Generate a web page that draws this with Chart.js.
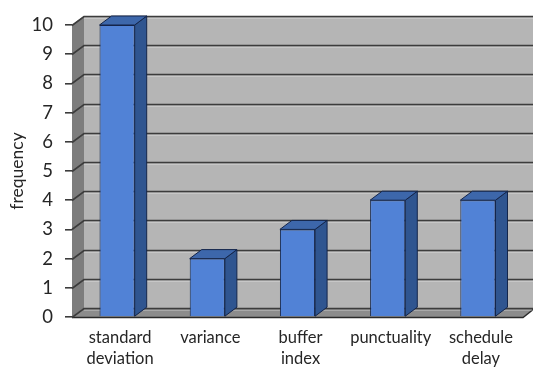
<!DOCTYPE html>
<html>
<head>
<meta charset="utf-8">
<script src="https://cdn.jsdelivr.net/npm/chart.js@4.4.1/dist/chart.umd.min.js"></script>
<style>
  html, body { margin: 0; padding: 0; background: #ffffff; }
  #wrap { width: 533px; height: 368px; }
</style>
</head>
<body>
<div id="wrap"><canvas id="chart" width="533" height="368"></canvas></div>
<script>
// Frequency of each reliability indicator
const categories = [['standard', 'deviation'], 'variance', ['buffer', 'index'], 'punctuality', ['schedule', 'delay']];
const frequency = [10, 2, 3, 4, 4];
const yTicks = [0, 1, 2, 3, 4, 5, 6, 7, 8, 9, 10];

// depth of the pseudo-3D box (pixels)
const DX = 12, DY = -9;

const box3d = {
  id: 'box3d',
  beforeDatasetsDraw(chart) {
    const { ctx, chartArea: a, scales: { y } } = chart;
    ctx.save();
    // back wall
    ctx.fillStyle = '#b5b5b5';
    ctx.fillRect(a.left + DX, a.top + DY, a.right - a.left + 20, a.bottom - a.top);
    // left side wall
    ctx.fillStyle = '#7d7d7d';
    ctx.beginPath();
    ctx.moveTo(a.left, a.top);
    ctx.lineTo(a.left + DX, a.top + DY);
    ctx.lineTo(a.left + DX, a.bottom + DY);
    ctx.lineTo(a.left, a.bottom);
    ctx.closePath();
    ctx.fill();
    // floor
    ctx.fillStyle = '#8c8c8c';
    ctx.beginPath();
    ctx.moveTo(a.left, a.bottom);
    ctx.lineTo(a.left + DX, a.bottom + DY);
    ctx.lineTo(a.right + DX, a.bottom + DY);
    ctx.lineTo(a.right, a.bottom);
    ctx.closePath();
    ctx.fill();
    ctx.strokeStyle = '#2a2a2a';
    ctx.lineWidth = 1.5;
    ctx.beginPath();
    ctx.moveTo(a.left, a.bottom + 0.5);
    ctx.lineTo(a.right, a.bottom + 0.5);
    ctx.lineTo(a.right + DX, a.bottom + DY);
    ctx.stroke();
    // gridlines: diagonal on the side wall, horizontal on the back wall
    yTicks.forEach(v => {
      const py = Math.round(y.getPixelForValue(v)) + 0.5;
      ctx.strokeStyle = 'rgba(255,255,255,0.25)';
      ctx.lineWidth = 1;
      ctx.beginPath();
      ctx.moveTo(a.left + DX, py + DY + 2);
      ctx.lineTo(a.right + DX + 20, py + DY + 2);
      ctx.stroke();
      ctx.strokeStyle = '#3c3c3c';
      ctx.lineWidth = 1.6;
      ctx.beginPath();
      ctx.moveTo(a.left, py);
      ctx.lineTo(a.left + DX, py + DY);
      ctx.lineTo(a.right + DX + 20, py + DY);
      ctx.stroke();
    });
    ctx.restore();
  },
  afterDatasetsDraw(chart) {
    const { ctx } = chart;
    const meta = chart.getDatasetMeta(0);
    ctx.save();
    ctx.lineJoin = 'round';
    ctx.strokeStyle = '#14254a';
    ctx.lineWidth = 1;
    meta.data.forEach(bar => {
      const { x, y, base, width } = bar.getProps(['x', 'y', 'base', 'width'], true);
      const l = x - width / 2, r = x + width / 2;
      // side face
      ctx.fillStyle = '#2f5590';
      ctx.beginPath();
      ctx.moveTo(r, y);
      ctx.lineTo(r + DX, y + DY);
      ctx.lineTo(r + DX, base + DY);
      ctx.lineTo(r, base);
      ctx.closePath();
      ctx.fill();
      ctx.stroke();
      // top face
      ctx.fillStyle = '#3d67ab';
      ctx.beginPath();
      ctx.moveTo(l, y);
      ctx.lineTo(l + DX, y + DY);
      ctx.lineTo(r + DX, y + DY);
      ctx.lineTo(r, y);
      ctx.closePath();
      ctx.fill();
      ctx.stroke();
    });
    ctx.restore();
  }
};

new Chart(document.getElementById('chart'), {
  type: 'bar',
  data: {
    labels: categories,
    datasets: [{
      data: frequency,
      backgroundColor: '#5182d6',
      borderColor: '#14254a',
      borderWidth: 1,
      categoryPercentage: 1,
      barPercentage: 0.39
    }]
  },
  options: {
    responsive: false,
    animation: false,
    layout: { padding: { top: 25, right: 10, left: 0, bottom: 0 } },
    plugins: { legend: { display: false }, tooltip: { enabled: false } },
    scales: {
      x: {
        grid: { display: false, drawTicks: false },
        border: { display: false },
        ticks: {
          color: '#262626',
          font: { family: 'Lato', size: 16.5, lineHeight: 1.22 },
          padding: 11,
          labelOffset: 3,
          maxRotation: 0,
          autoSkip: false
        },
        afterFit(s) { s.height = 51; }
      },
      y: {
        min: 0,
        max: 10,
        ticks: {
          stepSize: 1,
          color: '#262626',
          font: { family: 'Lato', size: 18.5 },
          padding: 12
        },
        grid: { drawOnChartArea: false, drawTicks: true, tickLength: 7, color: '#3c3c3c', lineWidth: 1.6 },
        border: { display: true, color: '#3c3c3c', width: 1 },
        title: {
          display: true,
          text: 'frequency',
          color: '#262626',
          font: { family: 'Lato', size: 17.5, lineHeight: 1.2 },
          padding: { top: 6.5, bottom: 0 }
        },
        afterFit(s) { s.width = 72; }
      }
    }
  },
  plugins: [box3d]
});
</script>
</body>
</html>
